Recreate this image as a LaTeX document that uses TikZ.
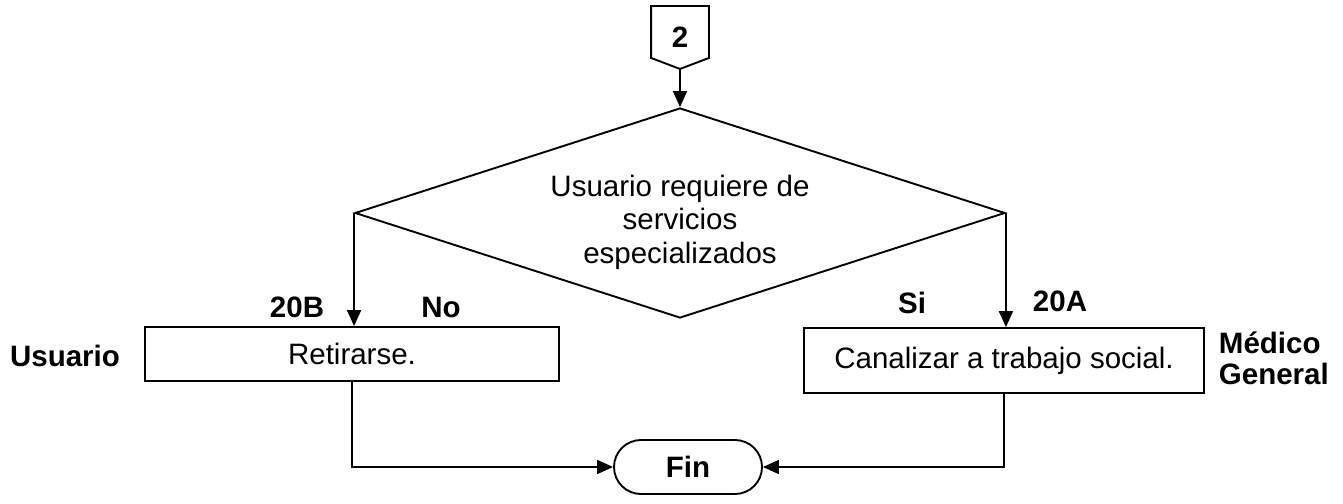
\documentclass[tikz,border=0pt]{standalone}
\usepackage{fontspec}
\setmainfont{Liberation Sans}
\usetikzlibrary{arrows.meta,shapes.geometric,shapes.misc,calc}
\begin{document}
\begin{tikzpicture}[x=1pt,y=-1pt,
  line width=1.9pt,
  font=\fontsize{29.5}{33.5}\selectfont,
  arr/.style={-{Triangle[length=16pt,width=14pt]}},
  box/.style={draw, rectangle, inner sep=0pt},
  lbl/.style={font=\fontsize{29.5}{33}\selectfont\bfseries, inner sep=0pt},
]
\useasboundingbox (0,0) rectangle (1343,503);
% off-page connector
\node[lbl, minimum width=56pt, minimum height=61pt] (c2) at (680,37.5) {2};
\draw (c2.north west) -- (c2.north east) -- ($(c2.south east)+(0,-11)$)
  -- (c2.south) -- ($(c2.south west)+(0,-11)$) -- cycle;
% decision
\node[draw, diamond, minimum width=650pt, minimum height=210pt, inner sep=0pt, aspect=3.1] (d) at (680,213) {};
\node[align=center, inner sep=0pt] (dt) at (680,222) {Usuario requiere de\\servicios\\especializados};
% boxes
\node[box, minimum width=414pt, minimum height=54pt] (r) at (352,354) {Retirarse.};
\node[box, minimum width=400pt, minimum height=65pt] (c) at (1004,360.5) {Canalizar a trabajo social.};
\node[draw, rounded rectangle, minimum width=148pt, minimum height=54pt, inner sep=0pt, font=\fontsize{29.5}{33}\selectfont\bfseries] (fin) at (688,467) {Fin};
% labels
\node[lbl] (l20b) at (297,307) {20B};
\node[lbl] (lno) at (441,307) {No};
\node[lbl] (lsi) at (912,303) {Si};
\node[lbl] (l20a) at (1060,301) {20A};
\node[lbl] (lus) at (65,356) {Usuario};
\node[lbl, align=left, anchor=west, font=\fontsize{29.5}{31}\selectfont\bfseries] (lmg) at (1218,358) {Médico\\General};
% connectors
\draw[arr] (c2.south) -- (d.north);
\draw[arr] (d.west) -- (d.west |- r.north);
\draw[arr] (d.east) -- (d.east |- c.north);
\draw[arr] (r.south) -- (r.south |- fin.west) -- (fin.west);
\draw[arr] (c.south) -- (c.south |- fin.east) -- (fin.east);
\end{tikzpicture}
\end{document}
